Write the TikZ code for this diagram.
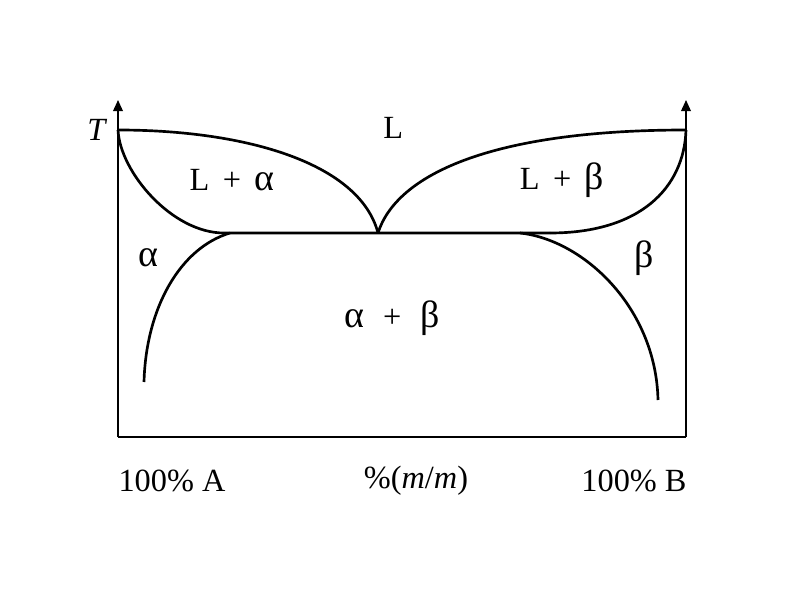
\documentclass[tikz,border=0pt]{standalone}
\usepackage{fontspec}
\setmainfont{Liberation Serif}
\usepackage{tikz}
\usetikzlibrary{arrows.meta}

\newcommand{\gr}[1]{{\fontsize{27}{27}\selectfont #1}}

\begin{document}
\begin{tikzpicture}[every node/.style={font=\fontsize{23}{27}\selectfont},
    phase/.style={line width=1.9pt}]
            \useasboundingbox (0,0) rectangle (20,15);

            % corners and points
            \coordinate (origin) at (2.95,4.075);
            \coordinate (bottomB) at (17.15,4.075);
            \coordinate (topA) at (2.95,12.5);
            \coordinate (topB) at (17.15,12.5);
            \coordinate (meltA) at (2.95,11.75);
            \coordinate (meltB) at (17.15,11.75);
            \coordinate (eut) at (9.45,9.175);
            \coordinate (solA) at (5.6,9.175);
            \coordinate (solB) at (13.75,9.175);
            \coordinate (solvA) at (5.75,9.175);
            \coordinate (solvB) at (13.0,9.175);
            \coordinate (endA) at (3.6,5.45);
            \coordinate (endB) at (16.45,5.0);

            % axis
            \draw[line width=1.1pt,-{Triangle[length=8pt,width=7pt]}] (origin) -- (topA);
            \draw[line width=1.1pt,-{Triangle[length=8pt,width=7pt]}] (bottomB) -- (topB);
            \draw[line width=1.1pt] (origin) -- (bottomB);

            % liquidus
            \draw[phase] (meltA) .. controls (6.2,11.75) and (9.0,10.9) .. (eut);
            \draw[phase] (eut) .. controls (9.9,10.6) and (12.2,11.75) .. (meltB);

            % solidus and eutectic line
            \draw[phase] (meltA) .. controls (3.0,10.7) and (4.3,9.175) .. (solA) -- (solB);
            \draw[phase] (meltB) .. controls (17.1,10.3) and (16.0,9.175) .. (solB);

            % solvus
            \draw[phase] (solvA) .. controls (4.5,8.8) and (3.65,7.3) .. (endA);
            \draw[phase] (solvB) .. controls (14.6,9.0) and (16.4,7.3) .. (endB);

            % labels
            \node (T) at (2.43,11.75) {\textit{T}};
            \node (L) at (9.83,11.8) {L};
            \node (La) at (5.8,10.5) {L \,+\, \gr{α}};
            \node (Lb) at (14.05,10.5) {L \,+\, \gr{β}};
            \node (a) at (3.7,8.55) {\gr{α}};
            \node (b) at (16.1,8.55) {\gr{β}};
            \node (ab) at (9.8,7.05) {\gr{α} \,\,+\,\, \gr{β}};
            \node (A) at (4.3,2.97) {100\% A};
            \node (mm) at (10.4,2.97) {\%(\textit{m}/\textit{m})};
            \node (B) at (15.85,2.97) {100\% B};
        \end{tikzpicture}
\end{document}
